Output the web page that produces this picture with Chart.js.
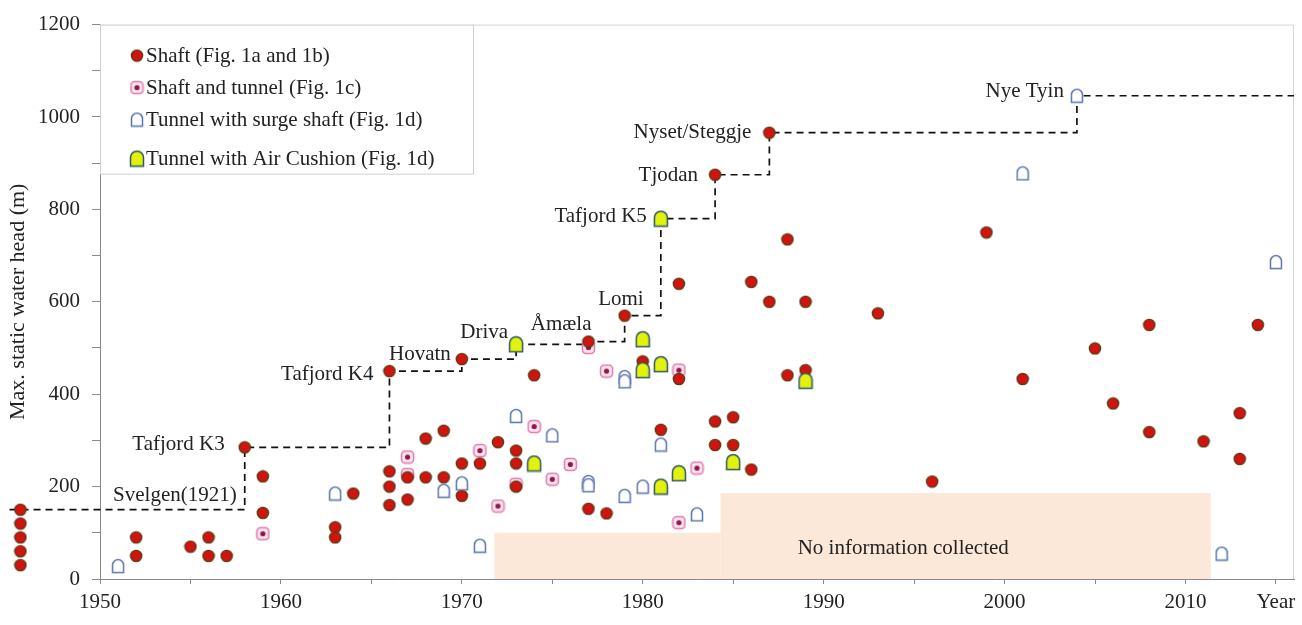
<!DOCTYPE html>
<html>
<head>
<meta charset="utf-8">
<script src="https://cdn.jsdelivr.net/npm/chart.js@4.4.1/dist/chart.umd.min.js"></script>
<style>
  html, body { margin: 0; padding: 0; background: #fff; }
</style>
</head>
<body>
<canvas id="myChart" width="1302" height="625"></canvas>
<script>
// ---- data ----
// plants commissioned before 1950 are parked left of the axis
var earlyYears = [1945.6, 1945.6, 1945.6, 1945.6, 1945.6];
var earlyHeads = [150, 120, 90, 60, 30];

var shaftYears = [1952, 1952, 1955, 1956, 1956, 1957, 1958, 1959, 1959,
    1963, 1963, 1964, 1966, 1966, 1966, 1966, 1967, 1967, 1968, 1968, 1969, 1969, 1970, 1970, 1970, 1971, 1972,
    1973, 1973, 1973, 1974, 1977, 1977, 1978, 1979, 1980, 1981, 1982, 1982, 1984, 1984, 1984, 1985, 1985,
    1986, 1986, 1987, 1987, 1988, 1988, 1989, 1989, 1993, 1996, 1999, 2001, 2005, 2006, 2008, 2008, 2011,
    2013, 2013, 2014];
var shaftHeads = [90, 50, 70, 90, 50, 50, 285, 222, 143,
    112, 90, 185, 450, 233, 200, 160, 220, 172, 304, 220, 321, 220, 476, 250, 180, 250, 296,
    278, 250, 200, 441, 514, 152, 142, 570, 471, 323, 639, 433, 875, 341, 290, 350, 290,
    643, 237, 966, 600, 735, 441, 600, 452, 575, 211, 750, 433, 499, 380, 550, 318, 298,
    359, 260, 550];

var shaftTunnelYears = [1959, 1967, 1967, 1971, 1972, 1973, 1974, 1975, 1976, 1977, 1978, 1982, 1982, 1983];
var shaftTunnelHeads = [98, 264, 226, 278, 158, 205, 330, 216, 248, 501, 450, 452, 122, 240];

var surgeYears = [1951, 1963, 1969, 1970, 1971, 1973, 1975, 1977, 1977, 1979, 1979, 1979, 1980, 1981, 1983,
    2001, 2004, 2012, 2015];
var surgeHeads = [28, 185, 191, 207, 72, 353, 311, 210, 203, 180, 437, 428, 200, 291, 140,
    878, 1046, 55, 686];

var cushionYears = [1973, 1974, 1980, 1980, 1981, 1981, 1981, 1982, 1985, 1989];
var cushionHeads = [508, 250, 519, 452, 780, 465, 200, 229, 253, 429];

// record plants along the dashed envelope
var recordNames = ['Svelgen(1921)', 'Tafjord K3', 'Tafjord K4', 'Hovatn', 'Driva', 'Åmæla', 'Lomi',
    'Tafjord K5', 'Tjodan', 'Nyset/Steggje', 'Nye Tyin'];
var recordYears = [1945, 1958, 1966, 1970, 1973, 1977, 1979, 1981, 1984, 1987, 2004];
var recordHeads = [150, 285, 450, 476, 508, 514, 570, 780, 875, 966, 1046];
var envelopeEndYear = 2016;

// shaded "no information" blocks
var noInfoFrom = [1971.8, 1984.3];
var noInfoTo = [1984.3, 2011.4];
var noInfoTop = [100, 186];
var noInfoText = 'No information collected';

// ticks
var xTickValues = [1950, 1955, 1960, 1965, 1970, 1975, 1980, 1985, 1990, 1995, 2000, 2005, 2010, 2015];
var xTickLabels = ['1950', '', '1960', '', '1970', '', '1980', '', '1990', '', '2000', '', '2010', 'Year'];
var yTickValues = [0, 100, 200, 300, 400, 500, 600, 700, 800, 900, 1000, 1100, 1200];
var yTickLabels = ['0', '', '200', '', '400', '', '600', '', '800', '', '1000', '', '1200'];

var seriesNames = ['Shaft (Fig. 1a and 1b)', 'Shaft and tunnel (Fig. 1c)',
    'Tunnel with surge shaft (Fig. 1d)', 'Tunnel with Air Cushion (Fig. 1d)'];

// ---- markers ----
var FONT = "'Liberation Serif', 'Times New Roman', serif";

function makeCanvas(w, h) {
    var c = document.createElement('canvas');
    c.width = w; c.height = h;
    return c;
}

function redDot() {
    var c = makeCanvas(14, 14), g = c.getContext('2d');
    g.beginPath();
    g.arc(7, 7, 5.6, 0, Math.PI * 2);
    g.fillStyle = '#d3130f';
    g.fill();
    g.lineWidth = 1.4;
    g.strokeStyle = '#5e3a14';
    g.stroke();
    return c;
}

function pinkBox() {
    var c = makeCanvas(15, 15), g = c.getContext('2d');
    g.beginPath();
    g.roundRect(1.5, 1.5, 12, 12, 3.5);
    g.fillStyle = '#fbe4f0';
    g.fill();
    g.lineWidth = 1.5;
    g.strokeStyle = '#e27bb0';
    g.stroke();
    g.beginPath();
    g.arc(7.5, 7.5, 2.6, 0, Math.PI * 2);
    g.fillStyle = '#951546';
    g.fill();
    return c;
}

function arch(w, h, fill, stroke) {
    var c = makeCanvas(w + 3, h + 3), g = c.getContext('2d');
    var x0 = 1.5, x1 = 1.5 + w, top = 1.5, bottom = 1.5 + h, r = w / 2;
    g.beginPath();
    g.moveTo(x0, bottom);
    g.lineTo(x0, top + r);
    g.arc(x0 + r, top + r, r, Math.PI, 0);
    g.lineTo(x1, bottom);
    g.closePath();
    g.fillStyle = fill;
    g.fill();
    g.lineWidth = 1.5;
    g.strokeStyle = stroke;
    g.stroke();
    return c;
}

var markers = [redDot(), pinkBox(), arch(11, 13, '#ffffff', '#5a76ae'), arch(13, 15, '#e2f20c', '#2f5866')];

function toPoints(xs, ys) {
    return xs.map(function (x, i) { return { x: x, y: ys[i] }; });
}

// envelope: horizontal run, then step up to the next record
var envelope = toPoints(recordYears, recordHeads);
envelope.push({ x: envelopeEndYear, y: recordHeads[recordHeads.length - 1] });

// ---- plugins ----
var shadePlugin = {
    id: 'shade',
    beforeDatasetsDraw: function (chart) {
        var ctx = chart.ctx, xs = chart.scales.x, ys = chart.scales.y;
        ctx.save();
        ctx.fillStyle = '#fce8d8';
        for (var i = 0; i < noInfoFrom.length; i++) {
            var l = xs.getPixelForValue(noInfoFrom[i]);
            var r = xs.getPixelForValue(noInfoTo[i]);
            var t = ys.getPixelForValue(noInfoTop[i]);
            var b = ys.getPixelForValue(0);
            ctx.fillRect(l, t, r - l, b - t);
        }
        ctx.fillStyle = '#222';
        ctx.font = '21px ' + FONT;
        ctx.textAlign = 'center';
        ctx.textBaseline = 'middle';
        ctx.fillText(noInfoText, xs.getPixelForValue(1994.4), ys.getPixelForValue(66));
        // light frame on top and right
        var a = chart.chartArea;
        ctx.strokeStyle = '#d6d6d6';
        ctx.lineWidth = 1;
        ctx.beginPath();
        ctx.moveTo(a.left, a.top + 0.5);
        ctx.lineTo(a.right - 0.5, a.top + 0.5);
        ctx.lineTo(a.right - 0.5, a.bottom);
        ctx.stroke();
        ctx.restore();
    }
};

// text offsets (px) from each record point: [dx, dy]
var labelOffsets = [[-8, -14], [-20, -3], [-16, 3], [-11, -5], [-8, -12], [3, -17], [19, -16],
    [-14, -2], [-17, 1], [-18, 0], [-13, -4]];

var annotatePlugin = {
    id: 'annotate',
    afterDatasetsDraw: function (chart) {
        var ctx = chart.ctx, xs = chart.scales.x, ys = chart.scales.y;
        ctx.save();
        // early plants sit outside the chart area, so draw them here
        var m = markers[0];
        for (var k = 0; k < earlyYears.length; k++) {
            ctx.drawImage(m, xs.getPixelForValue(earlyYears[k]) - m.width / 2,
                ys.getPixelForValue(earlyHeads[k]) - m.height / 2);
        }
        ctx.fillStyle = '#222';
        ctx.font = '21px ' + FONT;
        ctx.textAlign = 'right';
        ctx.textBaseline = 'middle';
        for (var i = 0; i < recordNames.length; i++) {
            // Svelgen label sits at the corner where its level meets the next step
            var ax = i === 0 ? recordYears[1] : recordYears[i];
            var px = xs.getPixelForValue(ax) + labelOffsets[i][0];
            var py = ys.getPixelForValue(recordHeads[i]) + labelOffsets[i][1];
            ctx.fillText(recordNames[i], px, py);
        }
        ctx.restore();
    }
};

var legendPlugin = {
    id: 'boxLegend',
    afterDraw: function (chart) {
        var ctx = chart.ctx, a = chart.chartArea;
        var left = a.left, top = a.top, w = 373, h = 149;
        var rows = [31, 63, 95, 134];
        ctx.save();
        ctx.fillStyle = '#fff';
        ctx.fillRect(left, top, w, h);
        ctx.strokeStyle = '#cfcfcf';
        ctx.lineWidth = 1;
        ctx.strokeRect(left + 0.5, top + 0.5, w, h);
        ctx.font = '21px ' + FONT;
        ctx.fillStyle = '#222';
        ctx.textAlign = 'left';
        ctx.textBaseline = 'middle';
        for (var i = 0; i < seriesNames.length; i++) {
            var m = markers[i];
            ctx.drawImage(m, left + 37 - m.width / 2, top + rows[i] - m.height / 2);
            ctx.fillText(seriesNames[i], left + 46, top + rows[i] + 1);
        }
        ctx.restore();
    }
};

// ---- chart ----
var scatterBase = { showLine: false, pointRadius: 6, pointHoverRadius: 6 };

var datasets = [
    Object.assign({ label: seriesNames[3], data: toPoints(cushionYears, cushionHeads), pointStyle: markers[3], order: 1 }, scatterBase),
    Object.assign({ label: seriesNames[2], data: toPoints(surgeYears, surgeHeads), pointStyle: markers[2], order: 2 }, scatterBase),
    Object.assign({ label: seriesNames[0], data: toPoints(shaftYears, shaftHeads), pointStyle: markers[0], order: 3 }, scatterBase),
    Object.assign({ label: seriesNames[1], data: toPoints(shaftTunnelYears, shaftTunnelHeads), pointStyle: markers[1], order: 4 }, scatterBase),
    {
        label: 'envelope',
        data: envelope,
        type: 'line',
        showLine: true,
        stepped: 'before',
        borderColor: '#111',
        borderWidth: 1.7,
        borderDash: [7, 5],
        pointRadius: 0,
        fill: false,
        clip: false,
        order: 5
    }
];

var ctx = document.getElementById('myChart').getContext('2d');

var myChart = new Chart(ctx, {
    type: 'scatter',
    data: { datasets: datasets },
    plugins: [shadePlugin, annotatePlugin, legendPlugin],
    options: {
        responsive: false,
        devicePixelRatio: 1,
        animation: false,
        layout: { padding: { top: 18, right: 8, left: 0, bottom: 0 } },
        plugins: {
            legend: { display: false },
            tooltip: { enabled: false }
        },
        scales: {
            x: {
                type: 'linear',
                min: 1950,
                max: 2016,
                afterBuildTicks: function (scale) {
                    scale.ticks = xTickValues.map(function (v) { return { value: v }; });
                },
                afterFit: function (scale) { scale.height = 46; },
                ticks: {
                    autoSkip: false,
                    maxRotation: 0,
                    padding: 6,
                    color: '#222',
                    font: { family: FONT, size: 21 },
                    callback: function (value) {
                        var i = xTickValues.indexOf(value);
                        return i < 0 ? '' : xTickLabels[i];
                    }
                },
                grid: { drawOnChartArea: false, tickLength: 5, color: '#8a8a8a' },
                border: { display: true, color: '#8a8a8a', width: 1 }
            },
            y: {
                type: 'linear',
                min: 0,
                max: 1200,
                afterBuildTicks: function (scale) {
                    scale.ticks = yTickValues.map(function (v) { return { value: v }; });
                },
                afterFit: function (scale) { scale.width = 100; },
                ticks: {
                    autoSkip: false,
                    padding: 12,
                    color: '#222',
                    font: { family: FONT, size: 21 },
                    callback: function (value) {
                        var i = yTickValues.indexOf(value);
                        return i < 0 ? '' : yTickLabels[i];
                    }
                },
                title: {
                    display: true,
                    text: 'Max. static water head (m)',
                    color: '#222',
                    font: { family: FONT, size: 22 },
                    padding: { top: 5, bottom: 0 }
                },
                grid: { drawOnChartArea: false, tickLength: 8, color: '#8a8a8a' },
                border: { display: true, color: '#8a8a8a', width: 1 }
            }
        }
    }
});
</script>
</body>
</html>
